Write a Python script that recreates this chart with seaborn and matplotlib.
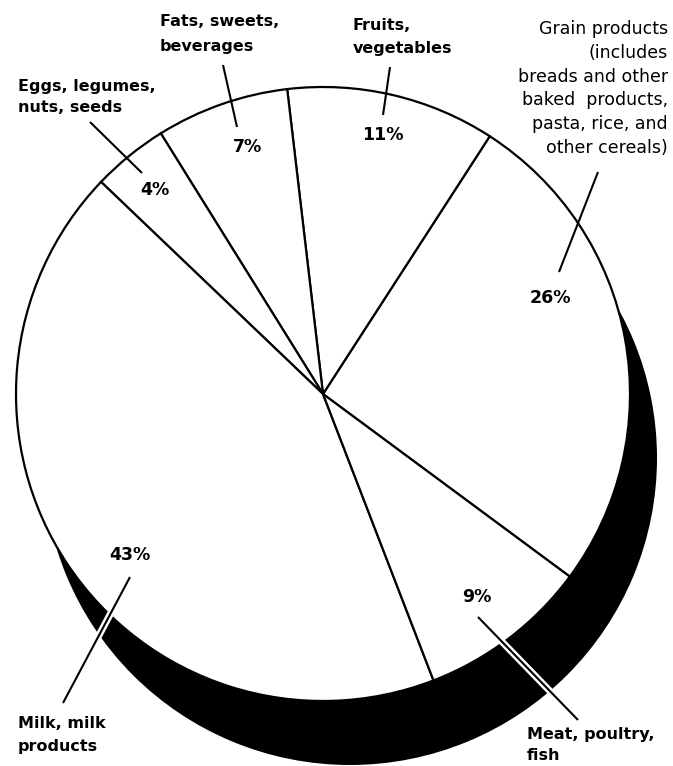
import matplotlib
matplotlib.use("Agg")
import matplotlib.pyplot as plt
import matplotlib.patheffects as pe
import seaborn as sns

sns.set_theme(style="white")
plt.rcParams["font.family"] = ["DejaVu Sans"]

# Food groups and their share (%) of the diet
categories = [
    "Grain products",
    "Fruits, vegetables",
    "Fats, sweets, beverages",
    "Eggs, legumes, nuts, seeds",
    "Milk, milk products",
    "Meat, poultry, fish",
]
shares = [26, 11, 7, 4, 43, 9]

# Multi-line captions for each group, in the same order
caption_lines = [
    ["Grain products", "(includes", "breads and other", "baked  products,",
     "pasta, rice, and", "other cereals)"],
    ["Fruits,", "vegetables"],
    ["Fats, sweets,", "beverages"],
    ["Eggs, legumes,", "nuts, seeds"],
    ["Milk, milk", "products"],
    ["Meat, poultry,", "fish"],
]

W, H = 673, 766
fig = plt.figure(figsize=(W / 100, H / 100), dpi=100)
ax = fig.add_axes([0, 0, 1, 1])

center = (323, 394)
radius = 307
shadow_center = (350, 458)

# drop shadow under the disc
ax.pie([1], colors=["black"], center=shadow_center, radius=radius,
       wedgeprops=dict(linewidth=0))

# the pie itself (y axis runs downward, so angles are mirrored)
wedges, _ = ax.pie(shares, colors=["white"] * len(shares), center=center,
                   radius=radius, startangle=36.5, counterclock=False,
                   wedgeprops=dict(edgecolor="black", linewidth=1.6))

ax.set_xlim(0, W)
ax.set_ylim(H, 0)
ax.set_aspect("auto")
ax.axis("off")

# percentage labels
pct_pos = [(550, 298), (383, 135), (247, 147), (155, 190), (130, 555), (477, 597)]
for v, (x, y) in zip(shares, pct_pos):
    ax.text(x, y, f"{v}%", ha="center", va="center", fontsize=12.5,
            fontweight="bold", color="black")

# captions: (anchor x, first line y, line step, alignment, weight, size)
cap_style = [
    (668, 29, 23.8, "right", "normal", 12.5),
    (353, 25, 24, "left", "bold", 11.5),
    (160, 22, 24, "left", "bold", 11.5),
    (18, 86, 21, "left", "bold", 11.5),
    (18, 723, 23, "left", "bold", 11.5),
    (527, 734, 21, "left", "bold", 11.5),
]
for lines, (x, y0, step, ha, wt, fs) in zip(caption_lines, cap_style):
    for i, line in enumerate(lines):
        ax.text(x, y0 + i * step, line, ha=ha, va="center", fontsize=fs,
                fontweight=wt, color="black")

# leader lines from captions to their slices
leaders = [
    ((598, 172), (559, 272), False),
    ((390, 67), (383, 115), False),
    ((223, 65), (237, 127), False),
    ((90, 122), (142, 173), False),
    ((130, 577), (63, 703), True),
    ((478, 617), (578, 720), True),
]
for (x0, y0), (x1, y1), halo in leaders:
    effects = [pe.Stroke(linewidth=5, foreground="white"), pe.Normal()] if halo else None
    ax.plot([x0, x1], [y0, y1], color="black", linewidth=1.5,
            solid_capstyle="butt", path_effects=effects, zorder=5)

fig.savefig("out.png", dpi=100, facecolor="white")
